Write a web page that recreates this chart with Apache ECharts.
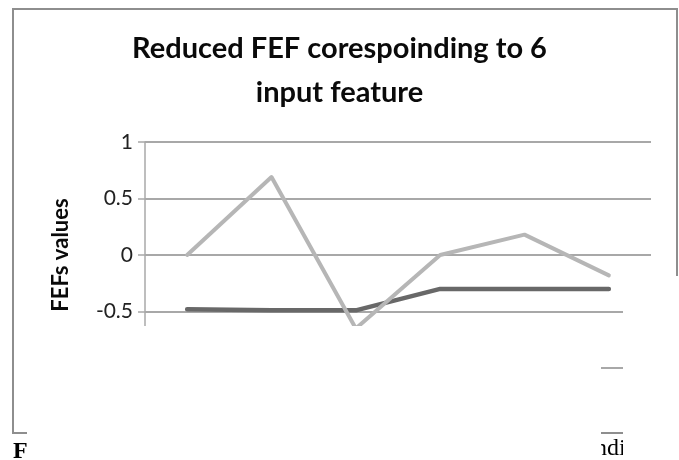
<!DOCTYPE html>
<html>
<head>
<meta charset="utf-8">
<script src="https://cdn.jsdelivr.net/npm/echarts@6/dist/echarts.min.js"></script>
<style>
  html, body { margin: 0; padding: 0; background: #ffffff; }
  #chart { width: 679px; height: 460px; }
</style>
</head>
<body>
<div id="chart"></div>
<script>
// Feature indices along the horizontal axis
const categories = ['1', '2', '3', '4', '5', '6'];
// Reduced FEF values (light line)
const reducedFef = [0, 0.69, -0.65, 0, 0.18, -0.18];
// Second FEF series (dark line)
const otherFef = [-0.48, -0.49, -0.49, -0.30, -0.30, -0.30];
// Value axis range and step
const yMin = -1;
const yMax = 1;
const yStep = 0.5;

const chart = echarts.init(document.getElementById('chart'), null, { renderer: 'canvas' });

const gridColor = '#a8a8a8';
const labelFont = 'Lato, "DejaVu Sans", sans-serif';

chart.setOption({
  animation: false,
  backgroundColor: '#ffffff',
  title: {
    text: 'Reduced FEF corespoinding to 6\ninput feature',
    left: 'center',
    top: 22,
    textStyle: {
      fontFamily: labelFont,
      fontWeight: 'bold',
      fontSize: 29,
      lineHeight: 44,
      color: '#0a0a0a'
    }
  },
  grid: { left: 145, right: 28, top: 142, bottom: 92 },
  xAxis: {
    type: 'category',
    data: categories,
    boundaryGap: true,
    axisLine: { show: false },
    axisTick: { show: false },
    axisLabel: { show: false },
    splitLine: { show: false }
  },
  yAxis: {
    type: 'value',
    min: yMin,
    max: yMax,
    interval: yStep,
    name: 'FEFs values',
    nameLocation: 'middle',
    nameRotate: 90,
    nameGap: 73,
    nameTextStyle: {
      fontFamily: labelFont,
      fontWeight: 'bold',
      fontSize: 22,
      color: '#0a0a0a'
    },
    axisLine: { show: true, lineStyle: { color: gridColor, width: 1.5 } },
    axisTick: { show: true, length: 7, inside: false, lineStyle: { color: gridColor, width: 1.5 } },
    axisLabel: {
      fontFamily: labelFont,
      fontSize: 21,
      color: '#222222',
      margin: 12,
      formatter: (v) => String(v)
    },
    splitLine: { show: true, lineStyle: { color: gridColor, width: 1.8 } }
  },
  series: [
    {
      name: 'FEF',
      type: 'line',
      data: otherFef,
      symbol: 'none',
      lineStyle: { color: '#686868', width: 4.5, cap: 'round', join: 'round' },
      z: 3
    },
    {
      name: 'Reduced FEF',
      type: 'line',
      data: reducedFef,
      symbol: 'none',
      lineStyle: { color: '#b6b6b6', width: 4, cap: 'round', join: 'round' },
      z: 4
    }
  ],
  graphic: [
    // chart frame
    {
      type: 'rect',
      z: 10,
      shape: { x: 13, y: 9, width: 664, height: 424 },
      style: { fill: 'none', stroke: '#8e8e8e', lineWidth: 2 }
    },
    // caption fragments below the chart
    {
      type: 'text',
      z: 20,
      left: 13,
      top: 440,
      style: { text: 'F', font: 'bold 24px "Liberation Serif", serif', fill: '#000000' }
    },
    {
      type: 'text',
      z: 20,
      left: 595,
      top: 437,
      style: { text: 'ndi', font: '24px "Liberation Serif", serif', fill: '#000000' }
    },
    // white panels laid over the lower part of the page
    {
      type: 'rect',
      z: 100,
      shape: { x: 27, y: 326, width: 574, height: 134 },
      style: { fill: '#ffffff' }
    },
    {
      type: 'rect',
      z: 100,
      shape: { x: 623, y: 276, width: 56, height: 184 },
      style: { fill: '#ffffff' }
    }
  ]
});
</script>
</body>
</html>
